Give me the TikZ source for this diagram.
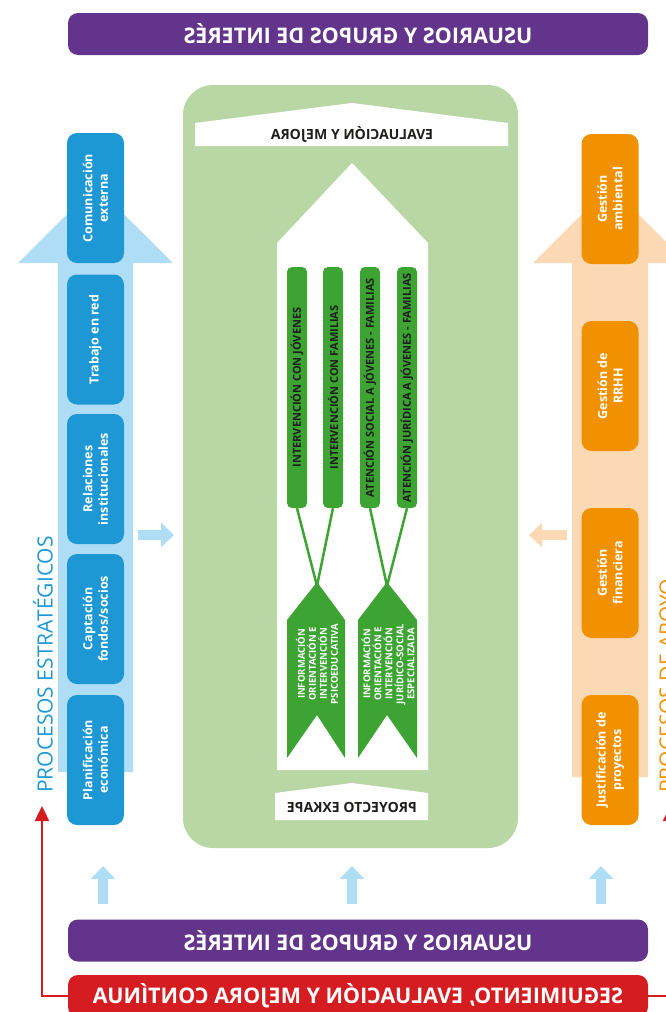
\documentclass[tikz,border=0pt]{standalone}
\usepackage{fontspec}
\setmainfont{Open Sans}
\usepackage{graphicx}
\usepackage{tikz}
\usetikzlibrary{arrows.meta,positioning}

\definecolor{usuarios}{RGB}{98,52,139}
\definecolor{estrat}{RGB}{29,152,213}
\definecolor{estratlight}{RGB}{176,221,246}
\definecolor{apoyo}{RGB}{242,145,0}
\definecolor{apoyolight}{RGB}{251,217,180}
\definecolor{panelgreen}{RGB}{185,215,164}
\definecolor{clavegreen}{RGB}{61,164,52}
\definecolor{mejora}{RGB}{213,28,33}
\definecolor{bartext}{RGB}{30,30,28}

\tikzset{
  headbar/.style={rectangle, rounded corners=10pt, minimum width=580pt, minimum height=42pt, text=white, font=\bfseries\fontsize{21.5}{24}\selectfont},
  procbox/.style={rectangle, rounded corners=10pt, minimum width=130pt, minimum height=57pt, rotate=90, text=white, align=center, font=\bfseries\fontsize{12.5}{15.5}\selectfont},
  lineabar/.style={rectangle, rounded corners=5pt, fill=clavegreen, text=bartext, rotate=90, minimum width=241pt, minimum height=20pt, inner sep=0pt, font=\bfseries\fontsize{11}{13}\selectfont},
  bannertext/.style={text=bartext, font=\bfseries\fontsize{14}{16}\selectfont},
  pennanttext/.style={text=white, rotate=90, align=center, inner sep=0pt, font=\bfseries\fontsize{9.5}{11}\selectfont},
  sidetitle/.style={rotate=90, anchor=west, inner sep=0pt, font=\fontsize{21}{24}\selectfont},
  fatarrow/.style={line width=10pt, -{Triangle[length=13pt,width=24pt]}},
  enlace/.style={line width=2.5pt, clavegreen},
  retorno/.style={line width=2.5pt, mejora, -{Triangle[length=15pt,width=14pt]}}
}

\begin{document}
\begin{tikzpicture}[x=1pt, y=-1pt]
        \useasboundingbox (0,0) rectangle (666,1012);

        % Stakeholder bars top and bottom, printed mirrored
        \node[headbar, fill=usuarios] (usuariosTop) at (358,34) {\reflectbox{USUARIOS Y GRUPOS DE INTERÉS}};
        \node[headbar, fill=usuarios] (usuariosBot) at (358,940.5) {\reflectbox{USUARIOS Y GRUPOS DE INTERÉS}};
        \node[headbar, fill=mejora] (seguimiento) at (358,996) {\reflectbox{SEGUIMIENTO, EVALUACIÓN Y MEJORA CONTÍNUA}};

        % Big background arrows behind the process columns
        \fill[estratlight] (58,772) -- (58,263) -- (18,263) -- (95.5,186) -- (173,263) -- (133,263) -- (133,772) -- cycle;
        \fill[apoyolight] (572,777) -- (572,263) -- (533,263) -- (610,186) -- (687,263) -- (648,263) -- (648,777) -- cycle;

        % Central project panel with the house shape
        \node[rectangle, rounded corners=30pt, fill=panelgreen, minimum width=335pt, minimum height=763pt] (proyecto) at (350.5,466.5) {};
        \fill[white] (195,146) -- (195,123) -- (352,103) -- (508,123) -- (508,146) -- cycle;
        \node[bannertext] (evaluacion) at (352,134) {\reflectbox{EVALUACIÓN Y MEJORA}};
        \fill[white] (277,770) -- (277,243) -- (352,163) -- (428,243) -- (428,770) -- cycle;
        \fill[white] (275,820) -- (275,793) -- (352,783) -- (428,793) -- (428,820) -- cycle;
        \node[bannertext] (exkape) at (352,807) {\reflectbox{PROYECTO EXKAPE}};

        % Lines of intervention
        \node[lineabar] (intJov) at (297,387.5) {INTERVENCIÓN CON JÓVENES};
        \node[lineabar] (intFam) at (333,387.5) {INTERVENCIÓN CON FAMILIAS};
        \node[lineabar] (atSoc) at (370,387.5) {ATENCIÓN SOCIAL A JÓVENES - FAMILIAS};
        \node[lineabar] (atJur) at (407,387.5) {ATENCIÓN JURÍDICA A JÓVENES - FAMILIAS};

        % Connect the lines to their service pennants
        \coordinate (tipPsico) at (317,586);
        \coordinate (tipJur) at (387,586);
        \draw[enlace] (intJov.west) -- (tipPsico);
        \draw[enlace] (intFam.west) -- (tipPsico);
        \draw[enlace] (atSoc.west) -- (tipJur);
        \draw[enlace] (atJur.west) -- (tipJur);

        \fill[clavegreen] (317,582) -- (345,620) -- (345,758) -- (317,715) -- (287,758) -- (287,620) -- cycle;
        \fill[clavegreen] (387,582) -- (417,620) -- (417,758) -- (387,715) -- (358,758) -- (358,620) -- cycle;
        \node[pennanttext] (servPsico) at (317,664) {INFORMACIÓN\\ORIENTACIÓN E\\INTERVENCIÓN\\PSICOEDUCATIVA};
        \node[pennanttext] (servJur) at (388,664) {INFORMACIÓN\\ORIENTACIÓN E\\INTERVENCIÓN\\JURÍDICO-SOCIAL\\ESPECIALIZADA};

        % Strategic processes on the left
        \node[procbox, fill=estrat] (comunicacion) at (95.5,198) {Comunicación\\externa};
        \node[procbox, fill=estrat] (trabajoRed) at (95.5,339.5) {Trabajo en red};
        \node[procbox, fill=estrat] (relaciones) at (95.5,479) {Relaciones\\institucionales};
        \node[procbox, fill=estrat] (captacion) at (95.5,619) {Captación\\fondos/socios};
        \node[procbox, fill=estrat] (planificacion) at (95.5,760) {Planificación\\económica};
        \node[sidetitle, text=estrat] (estrategicos) at (43,793) {PROCESOS ESTRATÉGICOS};

        % Support processes on the right
        \node[procbox, fill=apoyo] (ambiental) at (610,199) {Gestión\\ambiental};
        \node[procbox, fill=apoyo] (rrhh) at (610,386) {Gestión de\\RRHH};
        \node[procbox, fill=apoyo] (financiera) at (610,573) {Gestión\\financiera};
        \node[procbox, fill=apoyo] (justificacion) at (610,760) {Justificación de\\proyectos};
        \node[sidetitle, text=apoyo] (deApoyo) at (667,793) {PROCESOS DE APOYO};

        % Small arrows into the project
        \coordinate (estratOut) at (138,535);
        \coordinate (estratIn) at (174,535);
        \coordinate (apoyoOut) at (567,535);
        \coordinate (apoyoIn) at (529,535);
        \draw[fatarrow, estratlight] (estratOut) -- (estratIn);
        \draw[fatarrow, apoyolight] (apoyoOut) -- (apoyoIn);
        \foreach \px/\nm in {103/izq, 352/cen, 601/der} {
            \coordinate (up\nm A) at (\px,904);
            \coordinate (up\nm B) at (\px,866);
            \draw[fatarrow, estratlight] (up\nm A) -- (up\nm B);
        }

        % Feedback loop of continuous improvement
        \coordinate (retornoL) at (42,806);
        \coordinate (retornoR) at (670,806);
        \draw[retorno] (seguimiento.west) -| (retornoL);
        \draw[retorno] (seguimiento.east) -| (retornoR);
    \end{tikzpicture}
\end{document}
